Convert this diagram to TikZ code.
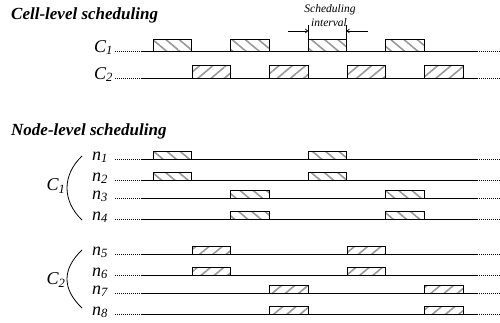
\documentclass[tikz,border=0pt]{standalone}
\usepackage{fontspec}
\setmainfont{Liberation Serif}
\usetikzlibrary{patterns.meta,arrows.meta}
\tikzset{
  heading/.style={font=\fontsize{17}{19}\selectfont\bfseries\itshape, anchor=west, inner sep=0pt},
  rowlabel/.style={font=\fontsize{18}{20}\selectfont\itshape, anchor=base west, inner sep=0pt},
  grouplabel/.style={font=\fontsize{18}{20}\selectfont\itshape, inner sep=0pt},
  note/.style={font=\fontsize{11.5}{13}\selectfont\itshape, inner sep=0pt},
  track/.style={line width=0.8pt},
  trail/.style={line width=0.8pt, dash pattern=on 1pt off 1pt},
  brace/.style={line width=0.8pt},
  slotA/.style={draw, line width=0.7pt, pattern={Lines[angle=-40,distance=8.5pt,line width=1.6pt]}, pattern color=gray!80},
  slotB/.style={draw, line width=0.7pt, pattern={Lines[angle=40,distance=8.5pt,line width=1.6pt]}, pattern color=gray!80},
  dim/.style={line width=0.7pt},
  dimarrow/.style={line width=0.7pt, -{To[length=3pt,width=4.5pt]}},
}
\begin{document}
\begin{tikzpicture}[x=1pt,y=-1pt]
\useasboundingbox (0,0) rectangle (500,322);

% ---------- cell-level scheduling ----------
\node[heading] (cellhead) at (11,15) {Cell-level scheduling};

% time lines: name / y / label
\foreach \nm/\y/\lab in {c1/51/C\textsubscript{1}, c2/78/C\textsubscript{2}}{
  \node[rowlabel] (l\nm) at (94,\y+1) {\lab};
  \draw[trail] (115,\y) -- (141,\y);
  \draw[track] (141,\y) -- (477,\y);
  \draw[trail] (477,\y) -- (500,\y);
}
% slots of cell C1 and C2
\foreach \x in {153,230.5,308,385.5}
  \draw[slotA] (\x,51) rectangle ++(38.75,-12);
\foreach \x in {192,269.5,347,424.5}
  \draw[slotB] (\x,78) rectangle ++(38.75,-12.5);

% scheduling interval dimension
\coordinate (ia) at (308,39);
\coordinate (ib) at (346.75,39);
\coordinate (iat) at (308,25);
\coordinate (ibt) at (346.75,25);
\coordinate (la) at (288,31);
\coordinate (lb) at (368,31);
\coordinate (ma) at (308,31);
\coordinate (mb) at (346.75,31);
\draw[dim] (ia) -- (iat);
\draw[dim] (ib) -- (ibt);
\draw[dimarrow] (la) -- (ma);
\draw[dimarrow] (lb) -- (mb);
\node[note] (schedA) at (330,10) {Scheduling};
\node[note] (schedB) at (329,23) {interval};

% ---------- node-level scheduling ----------
\node[heading] (nodehead) at (11,131) {Node-level scheduling};

\foreach \i/\y in {1/159,2/180,3/198,4/219,5/254,6/275,7/293,8/314}{
  \node[rowlabel] (n\i) at (92,\y+1) {n\textsubscript{\i}};
  \draw[trail] (115,\y) -- (141,\y);
  \draw[track] (141,\y) -- (477,\y);
  \draw[trail] (477,\y) -- (500,\y);
}
% slots of nodes in cell C1
\foreach \y in {159,180}
  \foreach \x in {153,308}
    \draw[slotA] (\x,\y) rectangle ++(38.75,-7.5);
\foreach \y in {198,219}
  \foreach \x in {230.5,385.5}
    \draw[slotA] (\x,\y) rectangle ++(38.75,-7.5);
% slots of nodes in cell C2
\foreach \y in {254,275}
  \foreach \x in {192,347}
    \draw[slotB] (\x,\y) rectangle ++(38.75,-7.5);
\foreach \y in {293,314}
  \foreach \x in {269.5,424.5}
    \draw[slotB] (\x,\y) rectangle ++(38.75,-7.5);

% grouping of nodes into cells
\node[grouplabel] (g1) at (56,186) {C\textsubscript{1}};
\node[grouplabel] (g2) at (56,280) {C\textsubscript{2}};
\draw[brace] (82,156) .. controls (62,175) and (62,201) .. (82,220);
\draw[brace] (82,250) .. controls (62,269) and (62,289) .. (82,308);
\end{tikzpicture}
\end{document}
